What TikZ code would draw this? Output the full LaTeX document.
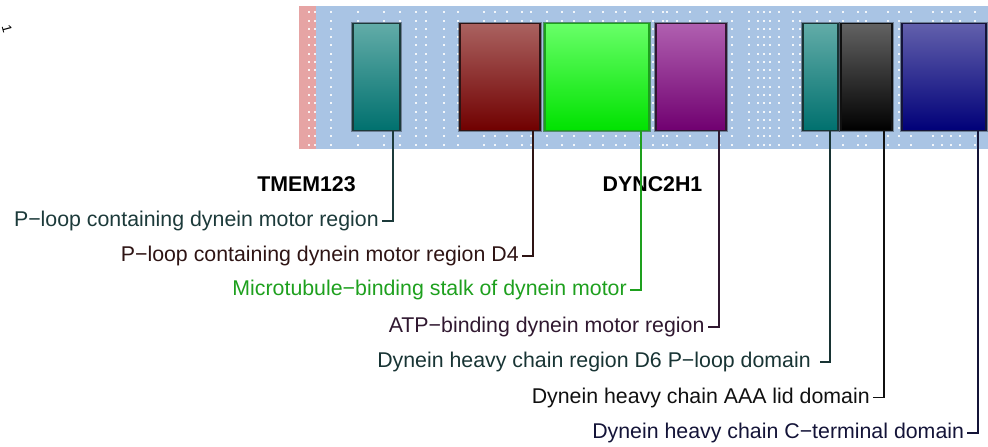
\documentclass[tikz,border=0pt]{standalone}
\usepackage{fontspec}
\setmainfont{Liberation Sans}
\begin{document}
\begin{tikzpicture}[x=0.75pt,y=-0.75pt,
  dom/.style={rectangle, inner sep=0pt, minimum height=107.4*0.75pt, line width=1.1pt,
    preaction={draw=black, draw opacity=0.35, line width=2.4pt}},
  lab/.style={anchor=east, inner xsep=3*0.75pt, inner ysep=0pt, font=\fontsize{16}{19}\selectfont},
  gene/.style={font=\fontsize{16}{19}\selectfont\bfseries},
  conn/.style={line width=1.3pt},
  dot/.style={fill=white, fill opacity=0.85}
]
\definecolor{bgblue}{HTML}{A9C4E4}
\definecolor{bgpink}{HTML}{E6A4A4}
\definecolor{cteal}{HTML}{1C3A3A}
\definecolor{cred}{HTML}{2E1414}
\definecolor{cgreen}{HTML}{1EA01E}
\definecolor{cpurple}{HTML}{301830}
\definecolor{cteal2}{HTML}{183434}
\definecolor{cblack}{HTML}{101010}
\definecolor{cnavy}{HTML}{141438}
\useasboundingbox (0,0) rectangle (988,446);
% background track
\fill[bgpink] (299,6) rectangle (316,148.7);
\fill[bgblue] (316,6) rectangle (988,148.7);
\foreach \cx in {309,314.7,331,358,384,400,416,426,444,458,484,495,507,522,531,547,562,574,590,603,616,625,640,653,663,667,677,690,707,720,732,749,758,764,770,779,793,800,817,830,843,858,866,888,899,911,933,942,951,960,975}{
  \foreach \r in {0,...,16}{
    \fill[dot] ({\cx-1},{12.3+8.27*\r-1}) rectangle ({\cx+1},{12.3+8.27*\r+1});
  }
}
% y axis remnant
\node[font=\fontsize{10}{10}\selectfont, rotate=-75, inner sep=0pt] (ytick) at (7,29) {1};
% domains
\node[dom, minimum width=47*0.75pt, top color={rgb,255:red,98;green,172;blue,168}, bottom color={rgb,255:red,0;green,112;blue,110}, draw=cteal] (t1) at (376.5,77) {};
\node[dom, minimum width=80*0.75pt, top color={rgb,255:red,170;green,98;blue,96}, bottom color={rgb,255:red,112;green,0;blue,0}, draw=cred] (rd) at (500,77) {};
\node[dom, minimum width=104*0.75pt, top color={rgb,255:red,104;green,255;blue,104}, bottom color={rgb,255:red,0;green,226;blue,0}, draw=cgreen, preaction={draw=cgreen, draw opacity=0.35, line width=2.4pt}] (gr) at (597,77) {};
\node[dom, minimum width=70*0.75pt, top color={rgb,255:red,176;green,96;blue,176}, bottom color={rgb,255:red,112;green,0;blue,112}, draw=cpurple] (pu) at (691,77) {};
\node[dom, minimum width=35*0.75pt, top color={rgb,255:red,98;green,172;blue,168}, bottom color={rgb,255:red,0;green,112;blue,110}, draw=cteal2] (t2) at (820.5,77) {};
\node[dom, minimum width=51*0.75pt, top color={rgb,255:red,98;green,98;blue,98}, bottom color={rgb,255:red,0;green,0;blue,0}, draw=cblack] (bk) at (866.5,77) {};
\node[dom, minimum width=84*0.75pt, top color={rgb,255:red,98;green,96;blue,172}, bottom color={rgb,255:red,0;green,0;blue,120}, draw=cnavy] (nv) at (944,77) {};
% gene names
\node[gene] (g1) at (306.5,184.5) {TMEM123};
\node[gene] (g2) at (652.5,184.5) {DYNC2H1};
% connector x positions
\coordinate (v1) at (393,0);
\coordinate (v2) at (533,0);
\coordinate (v3) at (641,0);
\coordinate (v4) at (718.7,0);
\coordinate (v5) at (830.3,0);
\coordinate (v6) at (884,0);
\coordinate (v7) at (978.3,0);
% labels
\node[lab, text=cteal] (l1) at (382,221) {P−loop containing dynein motor region};
\node[lab, text=cred] (l2) at (522,256.3) {P−loop containing dynein motor region D4};
\node[lab, text=cgreen] (l3) at (630,290) {Microtubule−binding stalk of dynein motor};
\node[lab, text=cpurple] (l4) at (707.7,326.9) {ATP−binding dynein motor region};
\node[lab, text=cteal2, inner xsep=9*0.75pt] (l5) at (820,362.2) {Dynein heavy chain region D6 P−loop domain};
\node[lab, text=cblack] (l6) at (873,397.5) {Dynein heavy chain AAA lid domain};
\node[lab, text=cnavy] (l7) at (967.3,432.8) {Dynein heavy chain C−terminal domain};
% connectors
\draw[conn, cteal] (t1.south -| v1) |- (l1.east);
\draw[conn, cred] (rd.south -| v2) |- (l2.east);
\draw[conn, cgreen] (gr.south -| v3) |- (l3.east);
\draw[conn, cpurple] (pu.south -| v4) |- (l4.east);
\draw[conn, cteal2] (t2.south -| v5) |- (l5.east);
\draw[conn, cblack] (bk.south -| v6) |- (l6.east);
\draw[conn, cnavy] (nv.south -| v7) |- (l7.east);
\end{tikzpicture}
\end{document}
